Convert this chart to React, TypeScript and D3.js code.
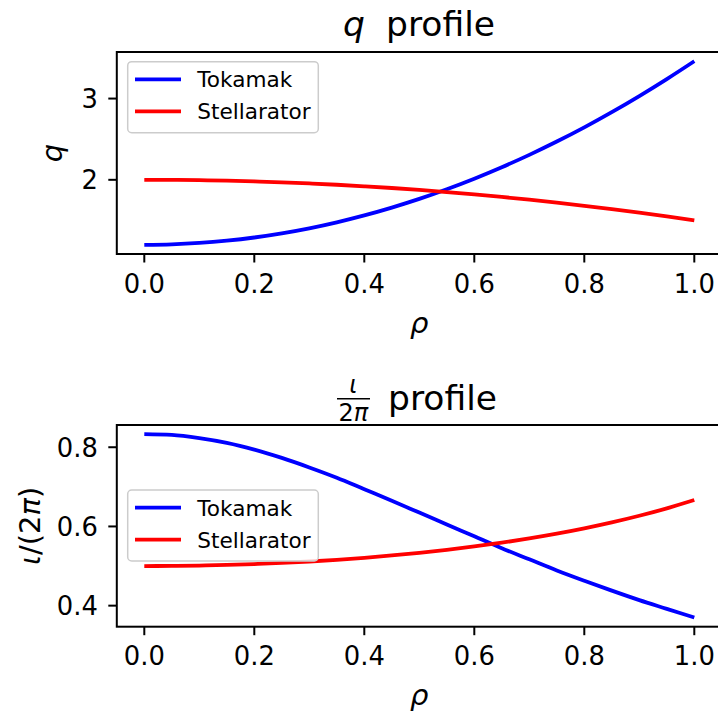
import React from "react";
import * as d3 from "d3";

const rho = [0, 0.05, 0.1, 0.15, 0.2, 0.25, 0.3, 0.35, 0.4, 0.45, 0.5, 0.55, 0.6, 0.65, 0.7, 0.75, 0.8, 0.85, 0.9, 0.95, 1.0];
const qTokamak = [1.200, 1.206, 1.223, 1.251, 1.290, 1.341, 1.403, 1.477, 1.562, 1.658, 1.765, 1.884, 2.014, 2.155, 2.307, 2.471, 2.646, 2.833, 3.031, 3.240, 3.460];
const qStellarator = [2.000, 1.999, 1.995, 1.989, 1.980, 1.969, 1.955, 1.939, 1.920, 1.899, 1.875, 1.849, 1.820, 1.789, 1.755, 1.719, 1.680, 1.639, 1.595, 1.549, 1.500];
const iotaTokamak = [0.833, 0.831, 0.823, 0.811, 0.794, 0.773, 0.749, 0.723, 0.694, 0.665, 0.635, 0.605, 0.575, 0.545, 0.517, 0.489, 0.463, 0.438, 0.414, 0.392, 0.370];
const iotaStellarator = [0.5000, 0.5003, 0.5013, 0.5028, 0.5051, 0.5079, 0.5115, 0.5158, 0.5208, 0.5267, 0.5333, 0.5409, 0.5495, 0.5590, 0.5698, 0.5818, 0.5952, 0.6102, 0.6270, 0.6457, 0.6667];
const xTicks = [0, 0.2, 0.4, 0.6, 0.8, 1.0];
const qTicks = [2, 3];
const iotaTicks = [0.4, 0.6, 0.8];
const seriesNames = ["Tokamak", "Stellarator"];
const seriesColors = ["#0000ff", "#ff0000"];

const FONT = "'DejaVu Sans', 'Liberation Sans', sans-serif";
const TICK_FS = 25.8;
const LABEL_FS = 29;
const LEG_FS = 21.6;
const TITLE_FS = 34.5;
const LW = 3.8;
const SPINE = 2;

type PanelProps = {
  top: number;
  bottom: number;
  series: number[][];
  yTicks: number[];
  yFmt: (v: number) => string;
  title: React.ReactNode;
  ylabel: React.ReactNode;
  ylabelX: number;
  legendTop: number;
};

function Panel({ top, bottom, series, yTicks, yFmt, title, ylabel, ylabelX, legendTop }: PanelProps) {
  const left = 116.8, right = 721.8;
  const xExt = d3.extent(rho) as [number, number];
  const xm = (xExt[1] - xExt[0]) * 0.05;
  const x = d3.scaleLinear().domain([xExt[0] - xm, xExt[1] + xm]).range([left, right]);
  const all = series.flat();
  const yExt = d3.extent(all) as [number, number];
  const ym = (yExt[1] - yExt[0]) * 0.05;
  const y = d3.scaleLinear().domain([yExt[0] - ym, yExt[1] + ym]).range([bottom, top]);
  const line = d3.line<number>().x((_, i) => x(rho[i])).y((d) => y(d)).curve(d3.curveMonotoneX);
  const cx = (left + right) / 2;
  const cy = (top + bottom) / 2;
  const tickLen = 8.5;
  return (
    <g>
      <defs>
        <clipPath id={`clip${top}`}>
          <rect x={left} y={top} width={right - left} height={bottom - top} />
        </clipPath>
      </defs>
      <g clipPath={`url(#clip${top})`}>
        {series.map((s, i) => (
          <path key={i} d={line(s) || ""} fill="none" stroke={seriesColors[i]} strokeWidth={LW} strokeLinecap="butt" />
        ))}
      </g>
      <g>
        <rect x={127.7} y={legendTop} width={190.6} height={71} rx={4} ry={4} fill="white" fillOpacity={0.8} stroke="#cccccc" strokeWidth={1.5} />
        {seriesNames.map((n, i) => (
          <g key={n}>
            <line x1={135} x2={181} y1={legendTop + 17.6 + i * 32} y2={legendTop + 17.6 + i * 32} stroke={seriesColors[i]} strokeWidth={LW} />
            <text x={197.3} y={legendTop + 25.6 + i * 32} fontFamily={FONT} fontSize={LEG_FS} fill="black">{n}</text>
          </g>
        ))}
      </g>
      <rect x={left} y={top} width={right - left} height={bottom - top} fill="none" stroke="black" strokeWidth={SPINE} />
      {xTicks.map((t) => (
        <g key={t}>
          <line x1={x(t)} x2={x(t)} y1={bottom} y2={bottom + tickLen} stroke="black" strokeWidth={SPINE} />
          <text x={x(t)} y={bottom + 38.7} textAnchor="middle" fontFamily={FONT} fontSize={TICK_FS} fill="black">{d3.format(".1f")(t)}</text>
        </g>
      ))}
      {yTicks.map((t) => (
        <g key={t}>
          <line x1={left - tickLen} x2={left} y1={y(t)} y2={y(t)} stroke="black" strokeWidth={SPINE} />
          <text x={97.8} y={y(t) + 9.4} textAnchor="end" fontFamily={FONT} fontSize={TICK_FS} fill="black">{yFmt(t)}</text>
        </g>
      ))}
      <text x={cx} y={bottom + 78.5} textAnchor="middle" fontFamily={FONT} fontSize={LABEL_FS} fontStyle="italic" fill="black">ρ</text>
      <text transform={`translate(${ylabelX},${cy}) rotate(-90)`} textAnchor="middle" fontFamily={FONT} fontSize={LABEL_FS} fill="black">{ylabel}</text>
      {title}
    </g>
  );
}

export default function App() {
  const topTitle = (
    <g>
      <text x={343} y={36} fontFamily={FONT} fontSize={TITLE_FS} fontStyle="italic" fill="black">q</text>
      <text x={386} y={36} fontFamily={FONT} fontSize={TITLE_FS} fill="black">profile</text>
    </g>
  );
  const fracX = 353.3;
  const bottomTitle = (
    <g>
      <text x={fracX} y={393} textAnchor="middle" fontFamily={FONT} fontSize={24} fontStyle="italic" fill="black">ι</text>
      <line x1={337} x2={370} y1={398.8} y2={398.8} stroke="black" strokeWidth={1.5} />
      <text x={fracX} y={420.5} textAnchor="middle" fontFamily={FONT} fontSize={24} fill="black">
        2<tspan fontStyle="italic">π</tspan>
      </text>
      <text x={388} y={410} fontFamily={FONT} fontSize={TITLE_FS} fill="black">profile</text>
    </g>
  );
  return (
    <svg width={718} height={715} style={{ position: "absolute", left: 0, top: 0, background: "white" }}>
      <rect x={0} y={0} width={718} height={715} fill="white" />
      <Panel
        top={52}
        bottom={254}
        series={[qTokamak, qStellarator]}
        yTicks={qTicks}
        yFmt={(v) => d3.format("d")(v)}
        title={topTitle}
        ylabel={<tspan fontStyle="italic">q</tspan>}
        ylabelX={62}
        legendTop={61.7}
      />
      <Panel
        top={425}
        bottom={626.7}
        series={[iotaTokamak, iotaStellarator]}
        yTicks={iotaTicks}
        yFmt={(v) => d3.format(".1f")(v)}
        title={bottomTitle}
        ylabel={<><tspan fontStyle="italic">ι</tspan>/(2<tspan fontStyle="italic">π</tspan>)</>}
        ylabelX={39.5}
        legendTop={490}
      />
    </svg>
  );
}
